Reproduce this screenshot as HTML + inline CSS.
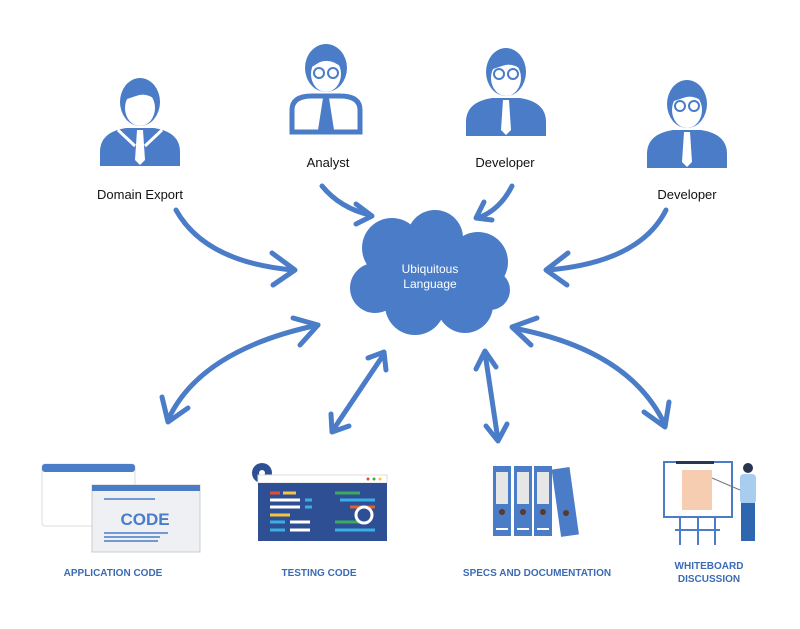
<!DOCTYPE html>
<html><head><style>
body{margin:0;background:#fff;width:800px;height:624px;overflow:hidden;font-family:"Liberation Sans",sans-serif}
</style></head><body>
<svg width="800" height="624" viewBox="0 0 800 624" xmlns="http://www.w3.org/2000/svg">
<defs>
<g id="person">
 <path d="M-40,42 Q-40,22 -14,18 L14,18 Q40,22 40,42 L40,56 L-40,56 Z" fill="#4a7cc7"/>
 <ellipse cx="0" cy="-8" rx="20" ry="24" fill="#4a7cc7"/>
 <ellipse cx="0" cy="-2" rx="15" ry="18" fill="#fff"/>
 <path d="M-16,-10 Q-14,-30 2,-28 Q16,-28 16,-10 Q6,-18 -4,-14 Q-10,-12 -16,-10Z" fill="#4a7cc7"/>
 <path d="M-3,20 L3,20 L5,50 L0,55 L-5,50Z" fill="#fff"/>
</g>
</defs>
<g transform="translate(140,110)"><use href="#person"/>
 <path d="M-22,20 L-5,36 M22,20 L5,36" stroke="#fff" stroke-width="3"/></g>
<g transform="translate(326,80)">
 <ellipse cx="0" cy="-12" rx="21" ry="24" fill="#4a7cc7"/>
 <ellipse cx="0" cy="-6" rx="15" ry="18" fill="#fff"/>
 <path d="M-16,-12 Q-14,-34 2,-32 Q16,-32 16,-12 Q6,-22 -6,-18Z" fill="#4a7cc7"/>
 <circle cx="-7" cy="-7" r="5" fill="none" stroke="#4a7cc7" stroke-width="2"/>
 <circle cx="7" cy="-7" r="5" fill="none" stroke="#4a7cc7" stroke-width="2"/>
 <path d="M-34,52 L-34,30 Q-34,16 -14,16 L14,16 Q34,16 34,30 L34,52 Z" fill="#fff" stroke="#4a7cc7" stroke-width="5"/>
 <path d="M-3,18 L3,18 L8,50 L-8,50Z" fill="#4a7cc7"/>
</g>
<g transform="translate(506,80)">
 <use href="#person"/>
 <circle cx="-7" cy="-6" r="5" fill="none" stroke="#4a7cc7" stroke-width="2"/>
 <circle cx="7" cy="-6" r="5" fill="none" stroke="#4a7cc7" stroke-width="2"/>
</g>
<g transform="translate(687,112)">
 <use href="#person"/>
 <circle cx="-7" cy="-6" r="5" fill="none" stroke="#4a7cc7" stroke-width="2"/>
 <circle cx="7" cy="-6" r="5" fill="none" stroke="#4a7cc7" stroke-width="2"/>
</g>
<g font-size="13" fill="#111" text-anchor="middle">
<text x="140" y="199">Domain Export</text>
<text x="328" y="167">Analyst</text>
<text x="505" y="167">Developer</text>
<text x="687" y="199">Developer</text>
</g>
<g fill="#4a7cc7">
<circle cx="392" cy="248" r="30"/><circle cx="435" cy="238" r="28"/><circle cx="478" cy="262" r="30"/>
<circle cx="375" cy="288" r="25"/><circle cx="415" cy="305" r="30"/><circle cx="465" cy="305" r="28"/><circle cx="490" cy="290" r="20"/>
<rect x="370" y="250" width="120" height="60"/>
</g>
<text x="430" y="273" font-size="12" fill="#fff" text-anchor="middle">Ubiquitous</text>
<text x="430" y="288" font-size="12" fill="#fff" text-anchor="middle">Language</text>
<g fill="none" stroke="#4a7cc7" stroke-width="5" stroke-linecap="round" stroke-linejoin="round">
<path d="M176,210 Q205,262 293,270"/><polyline points="272,253 295,270 273,285"/>
<path d="M322,186 Q340,208 370,215"/><polyline points="356,204 372,216 356,224"/>
<path d="M512,186 Q500,210 478,218"/><polyline points="484,202 476,218 492,220"/>
<path d="M666,210 Q640,262 548,270"/><polyline points="568,253 546,270 567,285"/>
<path d="M318,325 Q200,350 168,420"/><polyline points="293,318 318,325 300,345"/><polyline points="162,397 168,422 188,408"/>
<path d="M384,354 L333,430"/><polyline points="368,358 384,352 386,370"/><polyline points="331,414 332,432 349,426"/>
<path d="M485,353 L498,440"/><polyline points="476,369 485,351 496,367"/><polyline points="486,426 498,441 507,424"/>
<path d="M513,328 Q630,350 665,425"/><polyline points="537,318 512,327 531,345"/><polyline points="644,412 665,427 669,402"/>
</g>
<rect x="42" y="464" width="93" height="62" rx="3" fill="#fff" stroke="#ddd"/>
<rect x="42" y="464" width="93" height="8" rx="3" fill="#4a7cc7"/>
<rect x="92" y="485" width="108" height="67" fill="#eef0f4" stroke="#ccc"/>
<rect x="92" y="485" width="108" height="6" fill="#4a7cc7"/>
<line x1="104" y1="499" x2="155" y2="499" stroke="#4a7cc7" stroke-width="1.5"/>
<text x="145" y="525" font-size="17" font-weight="bold" fill="#4a7cc7" text-anchor="middle">CODE</text>
<line x1="104" y1="533" x2="168" y2="533" stroke="#4a7cc7" stroke-width="1.5"/>
<line x1="104" y1="537" x2="160" y2="537" stroke="#4a7cc7" stroke-width="1.5"/>
<line x1="104" y1="541" x2="158" y2="541" stroke="#4a7cc7" stroke-width="1.5"/>
<circle cx="262" cy="473" r="10" fill="#2f4f95"/><circle cx="262" cy="473" r="3" fill="#fff"/>
<rect x="258" y="475" width="129" height="8" fill="#fff" stroke="#ddd"/>
<circle cx="368" cy="479" r="1.5" fill="#e05030"/><circle cx="374" cy="479" r="1.5" fill="#3caa5a"/><circle cx="380" cy="479" r="1.5" fill="#f5c542"/>
<rect x="258" y="483" width="129" height="58" fill="#2f4f95"/>
<g stroke-width="3">
<line x1="270" y1="493" x2="280" y2="493" stroke="#e05030"/><line x1="283" y1="493" x2="296" y2="493" stroke="#f5c542"/>
<line x1="270" y1="500" x2="300" y2="500" stroke="#fff"/><line x1="305" y1="500" x2="312" y2="500" stroke="#3ab0e2"/>
<line x1="270" y1="507" x2="300" y2="507" stroke="#fff"/><line x1="305" y1="507" x2="312" y2="507" stroke="#3ab0e2"/>
<line x1="270" y1="515" x2="290" y2="515" stroke="#f5c542"/>
<line x1="270" y1="522" x2="285" y2="522" stroke="#3ab0e2"/><line x1="290" y1="522" x2="310" y2="522" stroke="#fff"/>
<line x1="270" y1="530" x2="285" y2="530" stroke="#3ab0e2"/><line x1="290" y1="530" x2="310" y2="530" stroke="#fff"/>
<line x1="335" y1="493" x2="360" y2="493" stroke="#3caa5a"/>
<line x1="340" y1="500" x2="375" y2="500" stroke="#3ab0e2"/>
<line x1="350" y1="507" x2="375" y2="507" stroke="#e06030"/>
<line x1="335" y1="522" x2="360" y2="522" stroke="#3caa5a"/>
<line x1="335" y1="530" x2="375" y2="530" stroke="#3ab0e2"/>
</g>
<circle cx="364" cy="515" r="8" fill="none" stroke="#fff" stroke-width="3"/>
<g fill="#4a7cc7">
<rect x="493" y="466" width="18" height="70"/><rect x="514" y="466" width="18" height="70"/><rect x="534" y="466" width="18" height="70"/>
<rect x="556" y="468" width="18" height="68" transform="rotate(-8 565 500)"/>
</g>
<g fill="#e6e6e6"><rect x="496" y="472" width="12" height="32"/><rect x="517" y="472" width="12" height="32"/><rect x="537" y="472" width="12" height="32"/></g>
<g fill="#5a3a2a"><circle cx="502" cy="512" r="3"/><circle cx="523" cy="512" r="3"/><circle cx="543" cy="512" r="3"/><circle cx="566" cy="513" r="3"/></g>
<g fill="#fff"><rect x="496" y="528" width="12" height="2"/><rect x="517" y="528" width="12" height="2"/><rect x="537" y="528" width="12" height="2"/></g>
<rect x="664" y="462" width="68" height="55" fill="#fff" stroke="#4a7cc7" stroke-width="2"/>
<rect x="676" y="461" width="38" height="3" fill="#2a3550"/>
<rect x="682" y="470" width="30" height="40" fill="#f6cdb0"/>
<g stroke="#4a7cc7" stroke-width="2"><line x1="680" y1="518" x2="680" y2="545"/><line x1="698" y1="518" x2="698" y2="545"/><line x1="715" y1="518" x2="715" y2="545"/><line x1="675" y1="530" x2="720" y2="530"/></g>
<circle cx="748" cy="468" r="5" fill="#2a3550"/>
<rect x="740" y="474" width="16" height="30" rx="4" fill="#a9cdee"/>
<rect x="741" y="503" width="14" height="38" fill="#2f66b0"/>
<line x1="712" y1="478" x2="740" y2="490" stroke="#777" stroke-width="1"/>
<g font-size="10" fill="#3b6bb5" font-weight="bold" text-anchor="middle">
<text x="113" y="576">APPLICATION CODE</text>
<text x="319" y="576">TESTING CODE</text>
<text x="537" y="576">SPECS AND DOCUMENTATION</text>
<text x="709" y="569">WHITEBOARD</text>
<text x="709" y="582">DISCUSSION</text>
</g>
</svg>
</body></html>
